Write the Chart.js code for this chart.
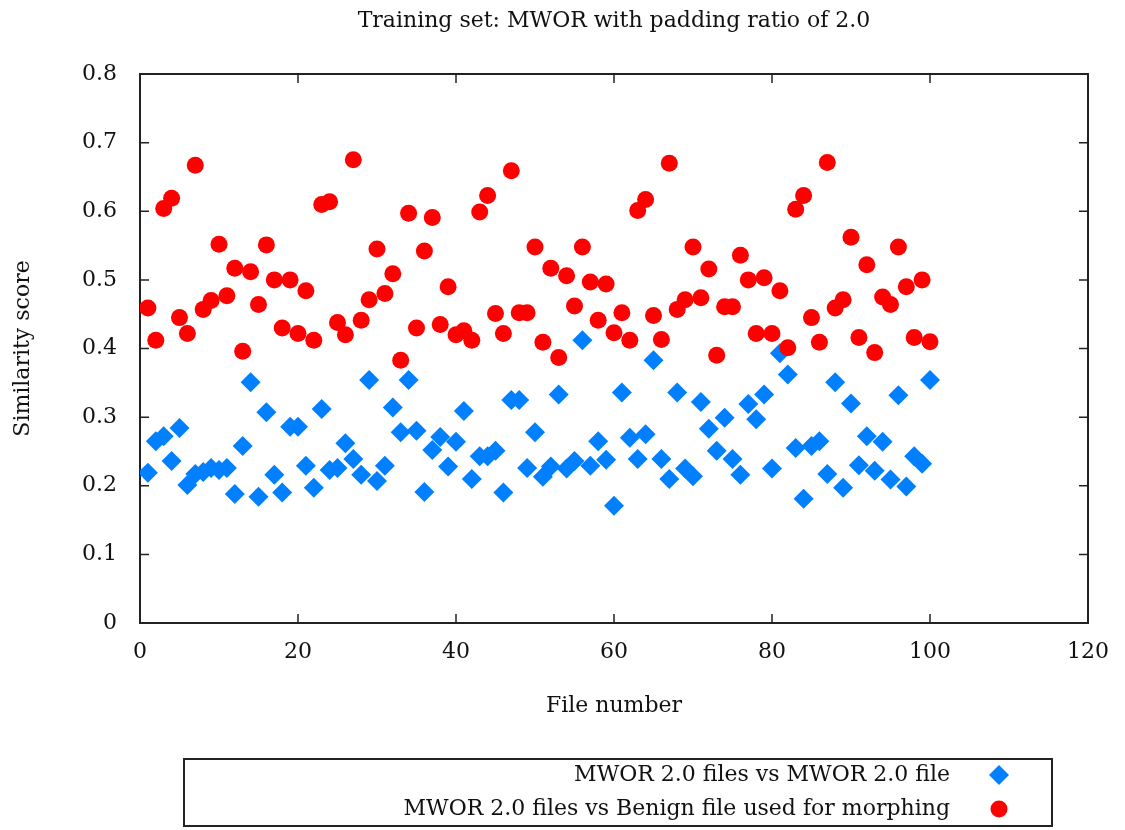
<!DOCTYPE html>
<html>
<head>
<meta charset="utf-8">
<script src="https://cdn.jsdelivr.net/npm/chart.js@4.4.1/dist/chart.umd.min.js"></script>
<style>
  html, body { margin: 0; padding: 0; background: #fff; }
  canvas { display: block; }
</style>
</head>
<body>
<canvas id="chart" width="1125" height="830"></canvas>
<script>
// file numbers along the x axis
const fileNumbers = [
  1, 2, 3, 4, 5, 6, 7, 8, 9, 10, 11, 12, 13, 14, 15, 16, 17, 18, 19, 20,
  21, 22, 23, 24, 25, 26, 27, 28, 29, 30, 31, 32, 33, 34, 35, 36, 37, 38, 39, 40,
  41, 42, 43, 44, 45, 46, 47, 48, 49, 50, 51, 52, 53, 54, 55, 56, 57, 58, 59, 60,
  61, 62, 63, 64, 65, 66, 67, 68, 69, 70, 71, 72, 73, 74, 75, 76, 77, 78, 79, 80,
  81, 82, 83, 84, 85, 86, 87, 88, 89, 90, 91, 92, 93, 94, 95, 96, 97, 98, 99, 100
];

// MWOR 2.0 files vs MWOR 2.0 file
const mworScores = [
  0.219, 0.265, 0.272, 0.236, 0.284, 0.201, 0.217, 0.220, 0.226, 0.223,
  0.226, 0.188, 0.258, 0.351, 0.184, 0.307, 0.216, 0.190, 0.286, 0.286,
  0.229, 0.197, 0.312, 0.223, 0.226, 0.262, 0.239, 0.216, 0.354, 0.207,
  0.229, 0.314, 0.278, 0.354, 0.280, 0.191, 0.252, 0.271, 0.228, 0.264,
  0.309, 0.210, 0.243, 0.243, 0.251, 0.190, 0.325, 0.325, 0.226, 0.278,
  0.213, 0.228, 0.333, 0.225, 0.236, 0.412, 0.229, 0.265, 0.238, 0.171,
  0.336, 0.270, 0.239, 0.275, 0.383, 0.239, 0.210, 0.336, 0.225, 0.214,
  0.322, 0.283, 0.251, 0.299, 0.239, 0.216, 0.319, 0.297, 0.333, 0.225,
  0.393, 0.362, 0.255, 0.181, 0.258, 0.265, 0.217, 0.351, 0.197, 0.320,
  0.230, 0.272, 0.222, 0.264, 0.209, 0.332, 0.199, 0.243, 0.232, 0.354
];

// MWOR 2.0 files vs Benign file used for morphing
const benignScores = [
  0.459, 0.412, 0.604, 0.619, 0.445, 0.422, 0.667, 0.457, 0.470, 0.552,
  0.477, 0.517, 0.396, 0.512, 0.464, 0.551, 0.500, 0.430, 0.500, 0.422,
  0.484, 0.412, 0.610, 0.614, 0.438, 0.420, 0.675, 0.441, 0.471, 0.545,
  0.480, 0.509, 0.383, 0.597, 0.430, 0.542, 0.591, 0.435, 0.490, 0.420,
  0.426, 0.412, 0.599, 0.623, 0.451, 0.422, 0.659, 0.452, 0.452, 0.548,
  0.409, 0.517, 0.387, 0.506, 0.462, 0.548, 0.497, 0.441, 0.494, 0.423,
  0.452, 0.412, 0.601, 0.617, 0.448, 0.413, 0.670, 0.457, 0.471, 0.548,
  0.474, 0.516, 0.390, 0.461, 0.461, 0.536, 0.500, 0.422, 0.503, 0.422,
  0.484, 0.401, 0.603, 0.623, 0.445, 0.409, 0.671, 0.459, 0.471, 0.562,
  0.416, 0.522, 0.394, 0.475, 0.464, 0.548, 0.490, 0.416, 0.500, 0.410
];

const xTicks = [0, 20, 40, 60, 80, 100, 120];
const yTicks = [0, 0.1, 0.2, 0.3, 0.4, 0.5, 0.6, 0.7, 0.8];

const chartTitle = 'Training set: MWOR with padding ratio of 2.0';
const seriesLabels = ['MWOR 2.0 files vs MWOR 2.0 file', 'MWOR 2.0 files vs Benign file used for morphing'];

const FONT = '"DejaVu Serif", "Liberation Serif", serif';
const BLUE = 'rgb(0, 128, 255)';
const RED = 'rgb(255, 0, 0)';

function toPoints(xs, ys) {
  return xs.map((x, i) => ({ x: x, y: ys[i] }));
}

// frame, inward ticks on all four sides, title
const framePlugin = {
  id: 'frame',
  beforeDatasetsDraw(chart) {
    const ctx = chart.ctx;
    const a = chart.chartArea;
    const xs = chart.scales.x;
    const ys = chart.scales.y;
    const tick = 9;
    ctx.save();
    ctx.strokeStyle = '#222';
    ctx.lineWidth = 1.5;
    ctx.beginPath();
    xTicks.forEach(v => {
      const px = xs.getPixelForValue(v);
      ctx.moveTo(px, a.bottom); ctx.lineTo(px, a.bottom - tick);
      ctx.moveTo(px, a.top); ctx.lineTo(px, a.top + tick);
    });
    yTicks.forEach(v => {
      const py = ys.getPixelForValue(v);
      ctx.moveTo(a.left, py); ctx.lineTo(a.left + tick, py);
      ctx.moveTo(a.right, py); ctx.lineTo(a.right - tick, py);
    });
    ctx.stroke();
    ctx.lineWidth = 2;
    ctx.strokeRect(a.left, a.top, a.right - a.left, a.bottom - a.top);

    ctx.fillStyle = '#111';
    ctx.font = '22px ' + FONT;
    ctx.textAlign = 'center';
    ctx.textBaseline = 'middle';
    ctx.fillText(chartTitle, (a.left + a.right) / 2, 21);
    ctx.restore();
  }
};

// boxed legend under the plot, text right aligned, marker on the right
const legendPlugin = {
  id: 'boxLegend',
  afterDraw(chart) {
    const ctx = chart.ctx;
    ctx.save();
    ctx.strokeStyle = '#222';
    ctx.lineWidth = 2;
    ctx.strokeRect(184, 759, 1052 - 184, 67);
    ctx.font = '22px ' + FONT;
    ctx.fillStyle = '#111';
    ctx.textAlign = 'right';
    ctx.textBaseline = 'middle';
    const rows = [775, 809];
    const ds = chart.data.datasets;
    [0, 1].forEach(i => {
      ctx.fillText(ds[i].label, 950, rows[i]);
      ctx.fillStyle = ds[i].backgroundColor;
      Chart.helpers.drawPoint(ctx, {
        pointStyle: ds[i].pointStyle,
        radius: ds[i].pointRadius,
        rotation: 0,
        borderWidth: 0
      }, 999, rows[i]);
      ctx.fillStyle = '#111';
    });
    ctx.restore();
  }
};

new Chart(document.getElementById('chart'), {
  type: 'scatter',
  data: {
    datasets: [
      {
        label: seriesLabels[0],
        data: toPoints(fileNumbers, mworScores),
        pointStyle: 'rectRot',
        pointRadius: 10,
        backgroundColor: BLUE,
        borderWidth: 0,
        order: 1
      },
      {
        label: seriesLabels[1],
        data: toPoints(fileNumbers, benignScores),
        pointStyle: 'circle',
        pointRadius: 8.5,
        backgroundColor: RED,
        borderWidth: 0,
        order: 0
      }
    ]
  },
  options: {
    responsive: false,
    animation: false,
    layout: {
      padding: { top: 74, right: 31, bottom: 107, left: 0 }
    },
    plugins: {
      legend: { display: false },
      title: { display: false },
      tooltip: { enabled: false }
    },
    scales: {
      x: {
        type: 'linear',
        min: 0,
        max: 120,
        afterFit: scale => { scale.height = 100; },
        afterBuildTicks: scale => { scale.ticks = xTicks.map(v => ({ value: v })); },
        grid: { display: false, drawTicks: false },
        border: { display: false },
        ticks: {
          padding: 16,
          color: '#111',
          font: { family: FONT, size: 22 }
        },
        title: {
          display: true,
          text: 'File number',
          color: '#111',
          font: { family: FONT, size: 22 },
          padding: { top: 4, bottom: 4 }
        }
      },
      y: {
        type: 'linear',
        min: 0,
        max: 0.8,
        afterFit: scale => { scale.width = 140; },
        afterBuildTicks: scale => { scale.ticks = yTicks.map(v => ({ value: v })); },
        grid: { display: false, drawTicks: false },
        border: { display: false },
        ticks: {
          padding: 23,
          color: '#111',
          font: { family: FONT, size: 22 },
          callback: v => (v === 0 ? '0' : v.toFixed(1))
        },
        title: {
          display: true,
          text: 'Similarity score',
          color: '#111',
          font: { family: FONT, size: 22 },
          padding: { top: 10, bottom: 0 }
        }
      }
    }
  },
  plugins: [framePlugin, legendPlugin]
});
</script>
</body>
</html>
